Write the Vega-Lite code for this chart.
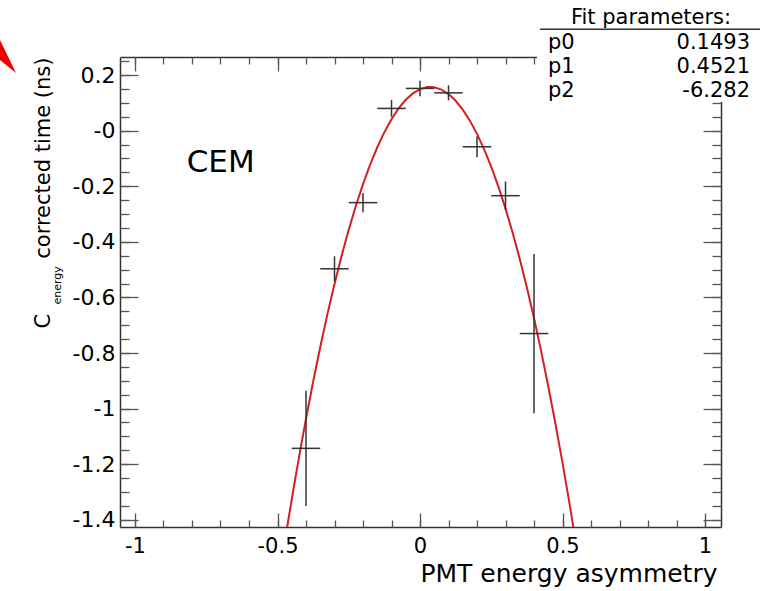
{
  "$schema": "https://vega.github.io/schema/vega-lite/v6.json",
  "width": 601,
  "height": 470,
  "autosize": "none",
  "padding": {"left": 120, "top": 57, "right": 39, "bottom": 64},
  "background": "white",
  "config": {
    "view": {"stroke": null},
    "font": "DejaVu Sans",
    "axis": {
      "labelFont": "DejaVu Sans", "titleFont": "DejaVu Sans", "grid": false,
      "tickColor": "#555", "tickWidth": 1.3, "domainColor": "#333", "domainWidth": 1.5,
      "labelColor": "#000", "titleColor": "#000", "titleFontWeight": "normal", "labelFontSize": 22
    }
  },
  "datasets": {
    "points": [
      {"asym": -0.4, "t": -1.143, "tlo": -1.350, "thi": -0.936, "alo": -0.45, "ahi": -0.35},
      {"asym": -0.3, "t": -0.497, "tlo": -0.542, "thi": -0.452, "alo": -0.35, "ahi": -0.25},
      {"asym": -0.2, "t": -0.259, "tlo": -0.294, "thi": -0.224, "alo": -0.25, "ahi": -0.15},
      {"asym": -0.1, "t": 0.080, "tlo": 0.050, "thi": 0.110, "alo": -0.15, "ahi": -0.05},
      {"asym": 0.0, "t": 0.152, "tlo": 0.124, "thi": 0.180, "alo": -0.05, "ahi": 0.05},
      {"asym": 0.1, "t": 0.136, "tlo": 0.109, "thi": 0.163, "alo": 0.05, "ahi": 0.15},
      {"asym": 0.2, "t": -0.058, "tlo": -0.096, "thi": -0.020, "alo": 0.15, "ahi": 0.25},
      {"asym": 0.3, "t": -0.234, "tlo": -0.285, "thi": -0.183, "alo": 0.25, "ahi": 0.35},
      {"asym": 0.4, "t": -0.730, "tlo": -1.017, "thi": -0.444, "alo": 0.35, "ahi": 0.45}
    ],
    "curve": [
      {"asym": -0.48, "t": -1.5151}, {"asym": -0.46, "t": -1.3880}, {"asym": -0.44, "t": -1.2658},
      {"asym": -0.42, "t": -1.1487}, {"asym": -0.40, "t": -1.0366}, {"asym": -0.375, "t": -0.9036},
      {"asym": -0.35, "t": -0.7784}, {"asym": -0.325, "t": -0.6611}, {"asym": -0.30, "t": -0.5517},
      {"asym": -0.275, "t": -0.4501}, {"asym": -0.25, "t": -0.3563}, {"asym": -0.225, "t": -0.2704},
      {"asym": -0.20, "t": -0.1924}, {"asym": -0.175, "t": -0.1222}, {"asym": -0.15, "t": -0.0598},
      {"asym": -0.125, "t": -0.0054}, {"asym": -0.10, "t": 0.0413}, {"asym": -0.075, "t": 0.0801},
      {"asym": -0.05, "t": 0.1110}, {"asym": -0.025, "t": 0.1341}, {"asym": 0.0, "t": 0.1493},
      {"asym": 0.025, "t": 0.1567}, {"asym": 0.036, "t": 0.1574}, {"asym": 0.05, "t": 0.1562},
      {"asym": 0.075, "t": 0.1479}, {"asym": 0.10, "t": 0.1317}, {"asym": 0.125, "t": 0.1076},
      {"asym": 0.15, "t": 0.0758}, {"asym": 0.175, "t": 0.0360}, {"asym": 0.20, "t": -0.0116},
      {"asym": 0.225, "t": -0.0670}, {"asym": 0.25, "t": -0.1303}, {"asym": 0.275, "t": -0.2015},
      {"asym": 0.30, "t": -0.2805}, {"asym": 0.325, "t": -0.3673}, {"asym": 0.35, "t": -0.4620},
      {"asym": 0.375, "t": -0.5646}, {"asym": 0.40, "t": -0.6750}, {"asym": 0.425, "t": -0.7933},
      {"asym": 0.45, "t": -0.9194}, {"asym": 0.475, "t": -1.0534}, {"asym": 0.50, "t": -1.1951},
      {"asym": 0.525, "t": -1.3448}, {"asym": 0.55, "t": -1.5023}
    ]
  },
  "resolve": {"axis": {"x": "independent", "y": "independent"}},
  "layer": [
    {
      "data": {"name": "curve"},
      "mark": {"type": "line", "color": "#d42020", "strokeWidth": 2, "clip": true},
      "encoding": {
        "x": {"field": "asym", "type": "quantitative",
          "scale": {"domain": [-1.0526, 1.056], "nice": false, "zero": false},
          "axis": {"orient": "bottom", "values": [-1, -0.5, 0, 0.5, 1], "tickSize": -14, "domain": true,
            "labelFontSize": 21, "labelPadding": 22, "labelExpr": "'' + datum.value", "labelFlush": false, "labelOverlap": false,
            "title": "PMT energy asymmetry", "titleFontSize": 25, "titleAlign": "right", "titleAnchor": "end",
            "titleBaseline": "alphabetic", "titleX": 597, "titleY": 54}},
        "y": {"field": "t", "type": "quantitative",
          "scale": {"domain": [-1.426, 0.265], "nice": false, "zero": false},
          "axis": {"orient": "left", "values": [0.2, 0, -0.2, -0.4, -0.6, -0.8, -1, -1.2, -1.4], "tickSize": -18, "domain": true,
            "labelPadding": 23, "labelExpr": "datum.value == 0 ? '-0' : '' + datum.value", "labelFlush": false, "labelOverlap": false,
            "title": "corrected time (ns)", "titleFontSize": 21, "titleAngle": 270, "titleAlign": "right",
            "titleBaseline": "alphabetic", "titleX": -71, "titleY": 0}}
      }
    },
    {
      "data": {"name": "points"},
      "mark": {"type": "rule", "color": "#333", "strokeWidth": 1.5},
      "encoding": {
        "x": {"field": "asym", "type": "quantitative",
          "scale": {"domain": [-1.0526, 1.056], "nice": false, "zero": false},
          "axis": {"orient": "bottom", "values": [-1, -0.9, -0.8, -0.7, -0.6, -0.5, -0.4, -0.3, -0.2, -0.1, 0, 0.1, 0.2, 0.3, 0.4, 0.5, 0.6, 0.7, 0.8, 0.9, 1],
            "tickSize": -7, "labels": false, "domain": false, "title": null}},
        "y": {"field": "tlo", "type": "quantitative",
          "scale": {"domain": [-1.426, 0.265], "nice": false, "zero": false},
          "axis": {"orient": "left", "values": [-1.4, -1.35, -1.3, -1.25, -1.2, -1.15, -1.1, -1.05, -1, -0.95, -0.9, -0.85, -0.8, -0.75, -0.7, -0.65, -0.6, -0.55, -0.5, -0.45, -0.4, -0.35, -0.3, -0.25, -0.2, -0.15, -0.1, -0.05, 0, 0.05, 0.1, 0.15, 0.2, 0.25],
            "tickSize": -9, "labels": false, "domain": false,
            "title": "C", "titleFontSize": 21, "titleAngle": 270, "titleAlign": "left",
            "titleBaseline": "alphabetic", "titleX": -71, "titleY": 271}},
        "y2": {"field": "thi"}
      }
    },
    {
      "data": {"name": "points"},
      "mark": {"type": "rule", "color": "#333", "strokeWidth": 1.5},
      "encoding": {
        "x": {"field": "alo", "type": "quantitative",
          "scale": {"domain": [-1.0526, 1.056], "nice": false, "zero": false},
          "axis": {"orient": "top", "values": [-1, -0.5, 0, 0.5, 1], "tickSize": -14, "labels": false, "domain": true, "title": null}},
        "x2": {"field": "ahi"},
        "y": {"field": "t", "type": "quantitative",
          "scale": {"domain": [-1.426, 0.265], "nice": false, "zero": false},
          "axis": {"orient": "left", "ticks": false, "labels": false, "domain": false,
            "title": "energy", "titleFontSize": 11, "titleAngle": 270, "titleAlign": "left",
            "titleBaseline": "alphabetic", "titleX": -60, "titleY": 247}}
      }
    },
    {
      "data": {"values": [{}]},
      "mark": {"type": "text", "text": "CEM", "fontSize": 31, "align": "left", "baseline": "alphabetic", "color": "#000"},
      "encoding": {
        "x": {"datum": -0.8186, "type": "quantitative",
          "scale": {"domain": [-1.0526, 1.056], "nice": false, "zero": false},
          "axis": {"orient": "top", "values": [-1, -0.9, -0.8, -0.7, -0.6, -0.5, -0.4, -0.3, -0.2, -0.1, 0, 0.1, 0.2, 0.3, 0.4, 0.5, 0.6, 0.7, 0.8, 0.9, 1],
            "tickSize": -7, "labels": false, "domain": false, "title": null}},
        "y": {"datum": -0.1477, "type": "quantitative",
          "scale": {"domain": [-1.426, 0.265], "nice": false, "zero": false},
          "axis": {"orient": "right", "values": [0.2, 0, -0.2, -0.4, -0.6, -0.8, -1, -1.2, -1.4], "tickSize": -18, "labels": false, "domain": true, "title": null}}
      }
    },
    {
      "data": {"values": [{}]},
      "mark": {"type": "rect", "fill": "white", "clip": false},
      "encoding": {
        "x": {"datum": 0.4105, "type": "quantitative",
          "scale": {"domain": [-1.0526, 1.056], "nice": false, "zero": false}, "axis": null},
        "x2": {"datum": 1.3},
        "y": {"datum": 0.103, "type": "quantitative",
          "scale": {"domain": [-1.426, 0.265], "nice": false, "zero": false},
          "axis": {"orient": "right", "values": [-1.4, -1.35, -1.3, -1.25, -1.2, -1.15, -1.1, -1.05, -1, -0.95, -0.9, -0.85, -0.8, -0.75, -0.7, -0.65, -0.6, -0.55, -0.5, -0.45, -0.4, -0.35, -0.3, -0.25, -0.2, -0.15, -0.1, -0.05, 0, 0.05, 0.1, 0.15, 0.2, 0.25],
            "tickSize": -9, "labels": false, "domain": false, "title": null}},
        "y2": {"datum": 0.6}
      }
    },
    {
      "data": {"values": [{}]},
      "mark": {"type": "text", "text": "Fit parameters:", "fontSize": 21, "align": "center", "baseline": "alphabetic", "color": "#000", "clip": false},
      "encoding": {
        "x": {"datum": 0.8105, "type": "quantitative", "scale": {"domain": [-1.0526, 1.056], "nice": false, "zero": false}, "axis": null},
        "y": {"datum": 0.3837, "type": "quantitative", "scale": {"domain": [-1.426, 0.265], "nice": false, "zero": false}, "axis": null}
      }
    },
    {
      "data": {"values": [{}]},
      "mark": {"type": "rule", "color": "#333", "strokeWidth": 1.5, "clip": false},
      "encoding": {
        "x": {"datum": 0.421, "type": "quantitative", "scale": {"domain": [-1.0526, 1.056], "nice": false, "zero": false}, "axis": null},
        "x2": {"datum": 1.2},
        "y": {"datum": 0.3647, "type": "quantitative", "scale": {"domain": [-1.426, 0.265], "nice": false, "zero": false}, "axis": null}
      }
    },
    {
      "data": {"values": [{}]},
      "mark": {"type": "text", "text": ["p0", "p1", "p2"], "lineHeight": 23.7, "fontSize": 21, "align": "left", "baseline": "alphabetic", "color": "#000", "clip": false},
      "encoding": {
        "x": {"datum": 0.449, "type": "quantitative", "scale": {"domain": [-1.0526, 1.056], "nice": false, "zero": false}, "axis": null},
        "y": {"datum": 0.2927, "type": "quantitative", "scale": {"domain": [-1.426, 0.265], "nice": false, "zero": false}, "axis": null}
      }
    },
    {
      "data": {"values": [{}]},
      "mark": {"type": "text", "text": ["0.1493", "0.4521", "-6.282"], "lineHeight": 23.7, "fontSize": 21, "align": "right", "baseline": "alphabetic", "color": "#000", "clip": false},
      "encoding": {
        "x": {"datum": 1.158, "type": "quantitative", "scale": {"domain": [-1.0526, 1.056], "nice": false, "zero": false}, "axis": null},
        "y": {"datum": 0.2927, "type": "quantitative", "scale": {"domain": [-1.426, 0.265], "nice": false, "zero": false}, "axis": null}
      }
    },
    {
      "data": {"values": [{}]},
      "mark": {"type": "point", "shape": "M -1 -2.09 L 0.47 0.94 L -1 -0.25 Z", "size": 1156, "filled": true, "color": "#ee0000", "opacity": 1, "strokeWidth": 0, "clip": false},
      "encoding": {
        "x": {"datum": -1.4456, "type": "quantitative", "scale": {"domain": [-1.0526, 1.056], "nice": false, "zero": false}, "axis": null},
        "y": {"datum": 0.265, "type": "quantitative", "scale": {"domain": [-1.426, 0.265], "nice": false, "zero": false}, "axis": null}
      }
    }
  ]
}
